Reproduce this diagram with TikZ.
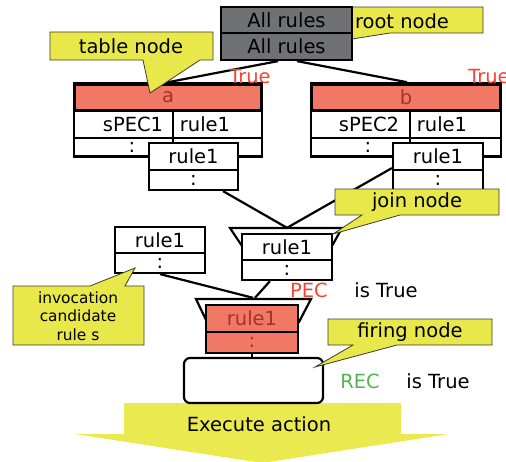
\documentclass[tikz,border=0pt]{standalone}
\usepackage{fontspec}
\setmainfont{DejaVu Sans}
\definecolor{rootgray}{RGB}{112,113,116}
\definecolor{salmon}{RGB}{240,120,100}
\definecolor{hdrtxt}{RGB}{165,50,40}
\definecolor{callfill}{RGB}{232,232,75}
\definecolor{callline}{RGB}{60,60,40}
\definecolor{truered}{RGB}{238,70,50}
\definecolor{recgreen}{RGB}{80,180,80}
\definecolor{arrowyellow}{RGB}{234,234,80}
\begin{document}
\begin{tikzpicture}[x=1pt,y=-1pt,
  font=\fontsize{19.5}{23}\selectfont,
  box/.style={draw, line width=2.2pt, fill=white, inner sep=0pt},
  redbox/.style={draw, line width=2pt, fill=salmon, inner sep=0pt, text=hdrtxt},
  callout/.style={fill=callfill, draw=callline, line width=0.8pt},
  conn/.style={line width=2.2pt},
  lbl/.style={inner sep=0pt}]
\useasboundingbox (0,0) rectangle (506,461);

% root node callout (behind the root box)
\draw[callout] (340,7) -- (483,7) -- (483,33) -- (390,33) -- (352,39) -- (352,33) -- (340,33) -- cycle;
\node[lbl] (rootlbl) at (402,21) {root node};

% root boxes
\node[box, fill=rootgray, minimum width=131pt, minimum height=26pt] (rootA) at (286.5,20) {All rules};
\node[box, fill=rootgray, minimum width=131pt, minimum height=27pt] (rootB) at (286.5,46.5) {All rules};

% table a
\node[box, line width=2.6pt, minimum width=188pt, minimum height=73pt] (ta) at (168,120) {};
\draw[conn] ([xshift=-8.5pt]rootB.south) -- (ta.north);
\node[redbox, line width=1.5pt, minimum width=186pt, minimum height=25pt] (taH) at (168,97.5) {a};
\draw[line width=2pt] (74,111) -- (262,111) (74,137.5) -- (262,137.5) (173,111) -- (173,156);
\node[lbl] (taS) at (133,124) {sPEC1};
\node[lbl] (taR) at (205,124) {rule1};
\node[lbl] (taD) at (132,147) {:};

% table b
\node[box, line width=2.6pt, minimum width=190pt, minimum height=73pt] (tb) at (406,120) {};
\draw[conn] ([xshift=10.5pt]rootB.south) -- ([xshift=1pt]tb.north);
\node[redbox, line width=1.5pt, minimum width=188pt, minimum height=25pt] (tbH) at (406,97.5) {b};
\draw[line width=2pt] (311,111) -- (501,111) (311,137.5) -- (501,137.5) (410,111) -- (410,156);
\node[lbl] (tbS) at (369,124) {sPEC2};
\node[lbl] (tbR) at (442,124) {rule1};
\node[lbl] (tbD) at (368,147) {:};

% small boxes under tables
\node[box, minimum width=89pt, minimum height=27pt] (saT) at (193.5,156.5) {rule1};
\node[box, minimum width=89pt, minimum height=20pt] (saB) at (193.5,180) {:};
\node[box, minimum width=90pt, minimum height=27pt] (sbT) at (438,156.5) {rule1};
\node[box, minimum width=90pt, minimum height=20pt] (sbB) at (438,180) {:};

% table node callout
\draw[callout] (50,32) -- (213,32) -- (213,60) -- (200,60) -- (150,93) -- (143,60) -- (50,60) -- cycle;
\node[lbl] (tablelbl) at (131,46) {table node};

% True labels
\node[lbl, text=truered] (trueA) at (250,77) {True};
\node[lbl, text=truered] (trueB) at (489,77) {True};

% join node
\node[inner sep=0pt, minimum width=90pt, minimum height=26pt] (jT) at (287,247) {};
\draw[conn] ([xshift=29.5pt]saB.south) -- ([yshift=6pt]jT.north);
\draw[conn] ([yshift=3pt]sbT.south west) -- ([yshift=6pt]jT.north);
\draw[line width=2.2pt, fill=white] (230,228) -- (342,228) -- (332,246) -- (242,246) -- cycle;
\node[box, minimum width=90pt, minimum height=26pt] (jT) at (287,247) {rule1};
\node[box, minimum width=90pt, minimum height=20pt] (jB) at (287,270) {:};

% join node callout
\draw[callout] (335,189) -- (499,189) -- (499,215) -- (400,215) -- (333,234) -- (362,215) -- (335,215) -- cycle;
\node[lbl] (joinlbl) at (417,202) {join node};

% left box
\node[box, minimum width=90pt, minimum height=26pt] (lT) at (160,240) {rule1};
\node[box, minimum width=90pt, minimum height=20pt] (lB) at (160,263) {:};

% firing node
\node[inner sep=0pt, minimum width=92pt, minimum height=27pt] (fT) at (252,318.5) {};
\draw[conn] (lB.south) -- ([xshift=1pt,yshift=7pt]fT.north);
\draw[conn] ([xshift=-17pt]jB.south) -- ([xshift=3pt,yshift=7pt]fT.north);
\draw[line width=2.2pt, fill=white] (196,299) -- (311,299) -- (299,322) -- (207,322) -- cycle;
\node[redbox, minimum width=92pt, minimum height=27pt] (fT) at (252,318.5) {rule1};
\node[redbox, minimum width=92pt, minimum height=21pt] (fB) at (252,342.5) {:};

% big arrow
\fill[arrowyellow] (124,403) -- (401,403) -- (401,434) -- (449,434) -- (262,463) -- (75,434) -- (124,434) -- cycle;
\node[lbl] (exec) at (259,424) {Execute action};

% rounded box
\node[draw, line width=2.2pt, rounded corners=6pt, fill=white, minimum width=139pt, minimum height=45pt] (fire) at (253.5,380.5) {};
\draw[line width=2pt] (fB.south) -- (fB.south |- fire.north);

% firing node callout
\draw[callout] (328,319) -- (492,319) -- (492,345) -- (397,345) -- (315,367) -- (353,345) -- (328,345) -- cycle;
\node[lbl] (firelbl) at (410,332) {firing node};

% invocation callout
\draw[callout] (13,286) -- (90,286) -- (135,268) -- (125,286) -- (144,286) -- (144,345) -- (13,345) -- cycle;
\node[lbl, align=center, font=\fontsize{15.4}{18.5}\selectfont] (invlbl) at (78,316) {invocation\\candidate\\rule s};

% condition labels
\node[lbl, text=truered] (pec) at (309,290) {PEC};
\node[lbl] (pectrue) at (386,290) {is True};
\node[lbl, text=recgreen] (rec) at (360,381) {REC};
\node[lbl] (rectrue) at (438,381) {is True};
\end{tikzpicture}
\end{document}
